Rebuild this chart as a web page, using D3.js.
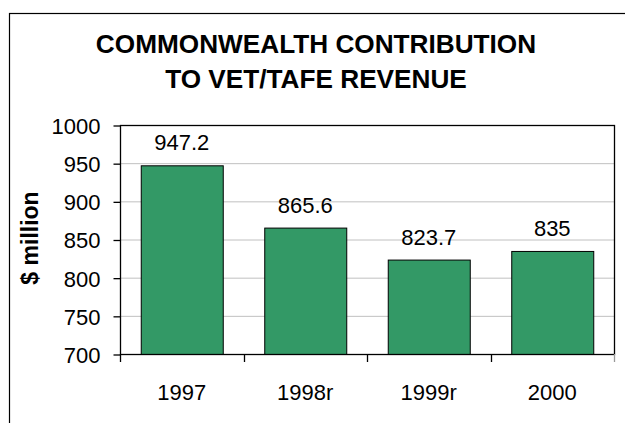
<!DOCTYPE html>
<html>
<head>
<meta charset="utf-8">
<script src="https://cdn.jsdelivr.net/npm/d3@7"></script>
<style>
  body { margin: 0; background: #fff; }
  svg { display: block; font-family: "Liberation Sans", Arial, sans-serif; }
</style>
</head>
<body>
<div id="content"></div>
<script>
// data
const years = ["1997", "1998r", "1999r", "2000"];
const revenue = [947.2, 865.6, 823.7, 835];
const valueLabels = ["947.2", "865.6", "823.7", "835"];
const yTicks = [700, 750, 800, 850, 900, 950, 1000];
const titleLines = ["COMMONWEALTH CONTRIBUTION", "TO VET/TAFE REVENUE"];

const width = 625, height = 423;
const plot = {left: 120, right: 614, top: 125, bottom: 354};

let svg = d3.select('#content').append('svg')
  .attr('width', width)
  .attr('height', height);

// outer frame (runs off right and bottom)
svg.append('rect')
  .attr('x', 9.5).attr('y', 13.5)
  .attr('width', 640).attr('height', 440)
  .attr('fill', 'none')
  .attr('stroke', '#000')
  .attr('stroke-width', 1.2);

// title
svg.append('g').selectAll('text')
  .data(titleLines)
  .join('text')
  .attr('x', 316)
  .attr('y', (d, i) => 53 + i * 35)
  .attr('text-anchor', 'middle')
  .attr('font-weight', 'bold')
  .attr('font-size', 26.2)
  .text(d => d);

let x = d3.scaleBand()
  .domain(years)
  .range([plot.left, plot.right])
  .paddingInner(0.336)
  .paddingOuter(0.168);

let y = d3.scaleLinear()
  .domain([700, 1000])
  .range([plot.bottom, plot.top]);

// gridlines
svg.append('g').selectAll('line')
  .data(yTicks.slice(1, -1))
  .join('line')
  .attr('x1', plot.left).attr('x2', plot.right)
  .attr('y1', d => y(d) + 0.5).attr('y2', d => y(d) + 0.5)
  .attr('stroke', '#c0c0c0')
  .attr('stroke-width', 1);

// bars
svg.append('g').selectAll('rect')
  .data(revenue)
  .join('rect')
  .attr('x', (d, i) => x(years[i]) + 0.5)
  .attr('y', d => y(d) + 0.5)
  .attr('width', x.bandwidth())
  .attr('height', d => y(700) - y(d))
  .attr('fill', '#339966')
  .attr('stroke', '#000')
  .attr('stroke-width', 1);

// value labels
svg.append('g').selectAll('text')
  .data(revenue)
  .join('text')
  .attr('x', (d, i) => x(years[i]) + x.bandwidth() / 2)
  .attr('y', d => y(d) - 15)
  .attr('text-anchor', 'middle')
  .attr('font-size', 22)
  .text((d, i) => valueLabels[i]);

// plot border
svg.append('rect')
  .attr('x', plot.left + 0.5).attr('y', plot.top + 0.5)
  .attr('width', plot.right - plot.left)
  .attr('height', plot.bottom - plot.top)
  .attr('fill', 'none')
  .attr('stroke', '#000')
  .attr('stroke-width', 1.3);

// y axis
let yAxis = svg.append('g')
  .attr('transform', `translate(${plot.left + 0.5},0.5)`)
  .call(d3.axisLeft(y).tickValues(yTicks).tickSize(7).tickPadding(13).tickFormat(d3.format('d')));
yAxis.select('.domain').remove();
yAxis.selectAll('.tick line').attr('stroke', '#000').attr('stroke-width', 1.3);
yAxis.selectAll('.tick text')
  .attr('font-size', 22)
  .attr('font-family', '"Liberation Sans", Arial, sans-serif')
  .attr('dy', '0.36em')
  .attr('fill', '#000');

// x axis
let xAxis = svg.append('g')
  .attr('transform', `translate(0,${plot.bottom + 0.5})`)
  .call(d3.axisBottom(x).tickSize(0).tickPadding(30));
xAxis.select('.domain').remove();
xAxis.selectAll('.tick text')
  .attr('font-size', 22)
  .attr('font-family', '"Liberation Sans", Arial, sans-serif')
  .attr('fill', '#000');

// category boundary ticks
let gap = (x.step() - x.bandwidth()) / 2;
let bounds = years.map(c => x(c) - gap).concat([plot.right]);
svg.append('g').selectAll('line')
  .data(bounds)
  .join('line')
  .attr('x1', d => Math.round(d) + 0.5).attr('x2', d => Math.round(d) + 0.5)
  .attr('y1', plot.bottom).attr('y2', plot.bottom + 8)
  .attr('stroke', (d, i) => i === bounds.length - 1 ? '#999' : '#000')
  .attr('stroke-width', 1.3);

// y axis title
svg.append('text')
  .attr('transform', `translate(38,238) rotate(-90)`)
  .attr('text-anchor', 'middle')
  .attr('font-weight', 'bold')
  .attr('font-size', 23)
  .text('$ million');
</script>
</body>
</html>
